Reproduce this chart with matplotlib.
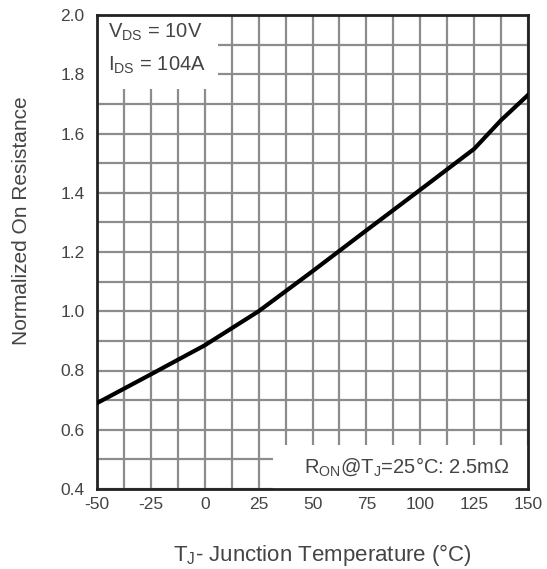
import numpy as np
import matplotlib.pyplot as plt
from matplotlib.patches import Rectangle

plt.rcParams['font.family'] = ['Liberation Sans', 'DejaVu Sans']
plt.rcParams['mathtext.fontset'] = 'custom'
plt.rcParams['mathtext.rm'] = 'Liberation Sans'
plt.rcParams['axes.unicode_minus'] = False

# values
temp = [-50, -25, 0, 25, 50, 75, 100, 125, 137.5, 150]
r_norm = [0.69, 0.787, 0.885, 1.0, 1.135, 1.273, 1.41, 1.548, 1.645, 1.73]

xticks = [-50, -25, 0, 25, 50, 75, 100, 125, 150]
yticks = [0.4, 0.6, 0.8, 1.0, 1.2, 1.4, 1.6, 1.8, 2.0]

txtcol = '#444444'
gridcol = '#8c8c8c'

fig = plt.figure(figsize=(5.47, 5.69), dpi=100)
ax = fig.add_axes([97/547, 80/569, 431/547, 474/569])

ax.set_xlim(-50, 150)
ax.set_ylim(0.4, 2.0)
ax.set_xticks(xticks)
ax.set_yticks(yticks)
ax.set_yticklabels(['%.1f' % v for v in yticks])
ax.set_xticks(np.arange(-50, 151, 12.5), minor=True)
ax.set_yticks(np.arange(0.4, 2.01, 0.1), minor=True)
ax.grid(True, which='both', color=gridcol, linewidth=1.6)
ax.set_axisbelow(True)
ax.tick_params(which='both', length=0, colors=txtcol, labelsize=12.5)
ax.tick_params(axis='x', pad=6)
ax.tick_params(axis='y', pad=9)
for s in ax.spines.values():
    s.set_linewidth(2)
    s.set_color('#222222')

# white patches behind the annotations
ax.add_patch(Rectangle((-50, 1.75), 56, 0.25, facecolor='white', edgecolor='none', zorder=1.5))
ax.add_patch(Rectangle((31.5, 0.4), 118.5, 0.148, facecolor='white', edgecolor='none', zorder=1.5))

ax.plot(temp, r_norm, color='black', linewidth=3, zorder=3)

ax.text(-45, 1.94, r'V$_\mathrm{DS}$ = 10V', fontsize=14.5, color=txtcol, va='center', zorder=4)
ax.text(-45, 1.83, r'I$_\mathrm{DS}$ = 104A', fontsize=14.5, color=txtcol, va='center', zorder=4)
ax.text(94, 0.474, r'R$_\mathrm{ON}$@T$_\mathrm{J}$=25°C: 2.5m$\Omega$', fontsize=14.5,
        color=txtcol, ha='center', va='center', zorder=4)

ax.set_xlabel(r'T$_\mathrm{J}$- Junction Temperature (°C)', fontsize=16, color=txtcol)
ax.set_ylabel('Normalized On Resistance', fontsize=15, color=txtcol)
ax.xaxis.set_label_coords(0.522, -0.112)
ax.yaxis.set_label_coords(-0.152, 0.567)

fig.savefig('out.png', dpi=100)
